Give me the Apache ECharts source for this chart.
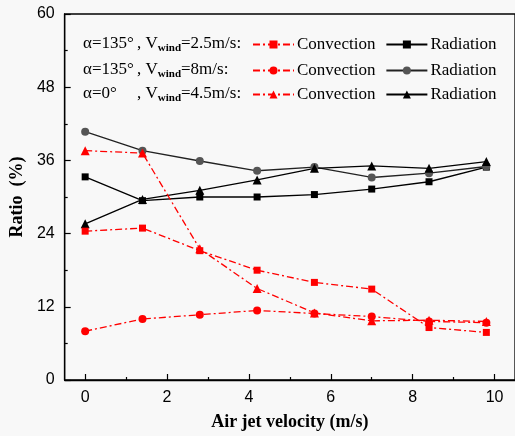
<!DOCTYPE html>
<html>
<head>
<meta charset="utf-8">
<script src="https://cdn.jsdelivr.net/npm/echarts@6/dist/echarts.min.js"></script>
<style>html,body{margin:0;padding:0;background:#f8f8f8;}#c{width:515px;height:436px;}</style>
</head>
<body>
<div id="c"></div>
<script>
// Data
var xValues = [0, 1.4, 2.8, 4.2, 5.6, 7.0, 8.4, 9.8];
var conv135w25 = [24.4, 24.9, 21.2, 18.0, 16.0, 14.9, 8.6, 7.8];
var rad135w25  = [33.3, 29.4, 30.0, 30.0, 30.4, 31.3, 32.5, 34.9];
var conv135w8  = [8.0, 10.0, 10.7, 11.4, 10.9, 10.4, 9.6, 9.4];
var rad135w8   = [40.7, 37.6, 35.9, 34.3, 34.9, 33.2, 33.9, 35.0];
var conv0w45   = [37.6, 37.2, 21.5, 15.0, 11.0, 9.7, 9.8, 9.6];
var rad0w45    = [25.6, 29.6, 31.1, 32.8, 34.7, 35.1, 34.7, 35.8];
var xMajorTicks = [0, 2, 4, 6, 8, 10];
var xMinorTicks = [1, 3, 5, 7, 9];
var yTickLabels = [0, 12, 24, 36, 48, 60];

function pairs(vals){ return xValues.map(function(x,i){ return [x, vals[i]]; }); }

var serif = 'Liberation Serif';
var sans = 'Liberation Sans';
var RED = '#ff0000';
var dashDot = [7, 3, 2, 3];

function convSeries(name, vals, symbol, size){
  return {name:name, type:'line', data:pairs(vals), symbol:symbol, symbolSize:size,
    itemStyle:{color:RED}, lineStyle:{color:RED, width:1.3, type:dashDot}, z:3};
}
function radSeries(name, vals, symbol, size, col, lcol){
  return {name:name, type:'line', data:pairs(vals), symbol:symbol, symbolSize:size,
    itemStyle:{color:col}, lineStyle:{color:lcol, width:1.3, type:'solid'}, z:2};
}

var names = {c1:'Convection', r1:'Radiation', c2:'Convection', r2:'Radiation', c3:'Convection', r3:'Radiation'};
function legendRow(top, data){
  return {top:top, left:247, orient:'horizontal', itemWidth:41, itemHeight:10, itemGap:10,
    data:data, selectedMode:false,
    formatter:function(n){ return names[n]; },
    textStyle:{fontFamily:serif, fontSize:17, color:'#000', padding:[0,0,0,-2]}};
}

var chart = echarts.init(document.getElementById('c'));
var richSub = {
  m:{fontFamily:serif, fontSize:17, color:'#000', lineHeight:20},
  s:{fontFamily:serif, fontSize:11, color:'#000', lineHeight:10, verticalAlign:'bottom', fontWeight:'bold'}
};
function prefixTexts(y, a, b){
  return [
    {type:'text', left:83, top:y-8, style:{text:a, fontFamily:serif, fontSize:17, fill:'#000'}},
    {type:'text', left:137, top:y-8, style:{text:b, rich:richSub}}
  ];
}
var graphics = [].concat(
  prefixTexts(43, 'α=135°', '{m|, V}{s|wind}{m|=2.5m/s:}'),
  prefixTexts(69, 'α=135°', '{m|, V}{s|wind}{m|=8m/s:}'),
  prefixTexts(93, 'α=0°', '{m|, V}{s|wind}{m|=4.5m/s:}')
);

chart.setOption({
  backgroundColor:'#f8f8f8',
  animation:false,
  grid:{left:63, top:14, right:-3, bottom:56, show:true, borderColor:'#000', borderWidth:1.3, backgroundColor:'transparent'},
  legend:[legendRow(31, ['c1','r1']), legendRow(57, ['c2','r2']), legendRow(81, ['c3','r3'])],
  graphic:graphics,
  xAxis:[{
    type:'value', min:-0.5, max:10.5,
    name:'Air jet velocity (m/s)', nameLocation:'middle', nameGap:33,
    nameTextStyle:{fontFamily:serif, fontWeight:'bold', fontSize:18, color:'#000'},
    axisLine:{show:true, onZero:false, lineStyle:{color:'#000', width:1.3}},
    axisTick:{show:true, inside:true, length:6, customValues:xMajorTicks, lineStyle:{color:'#000', width:1.2}},
    axisLabel:{customValues:xMajorTicks, fontFamily:sans, fontSize:16, color:'#000', margin:10},
    splitLine:{show:false}
  },{
    type:'value', min:-0.5, max:10.5, position:'bottom', offset:0,
    axisLine:{show:false, onZero:false},
    axisTick:{show:true, inside:true, length:3, customValues:xMinorTicks, lineStyle:{color:'#000', width:1.2}},
    axisLabel:{show:false, customValues:xMinorTicks},
    splitLine:{show:false}
  }],
  yAxis:{
    type:'value', min:0, max:60, interval:12,
    name:'Ratio  (%)', nameLocation:'middle', nameGap:35,
    nameTextStyle:{fontFamily:serif, fontWeight:'bold', fontSize:18, color:'#000'},
    axisLine:{show:true, onZero:false, lineStyle:{color:'#000', width:1.3}},
    axisTick:{show:true, inside:true, length:6, lineStyle:{color:'#000', width:1.2}},
    minorTick:{show:true, splitNumber:2, length:3, lineStyle:{color:'#000', width:1.2}},
    axisLabel:{fontFamily:sans, fontSize:16, color:'#000', margin:10,
      formatter:function(v){ return yTickLabels.indexOf(v) >= 0 ? String(v) : ''; }},
    splitLine:{show:false}
  },
  series:[
    radSeries('r1', rad135w25, 'rect', 7, '#000', '#000'),
    radSeries('r2', rad135w8, 'circle', 8, '#555', '#222'),
    radSeries('r3', rad0w45, 'triangle', 9, '#000', '#000'),
    convSeries('c1', conv135w25, 'rect', 7),
    convSeries('c2', conv135w8, 'circle', 8),
    convSeries('c3', conv0w45, 'triangle', 9)
  ]
});
</script>
</body>
</html>
